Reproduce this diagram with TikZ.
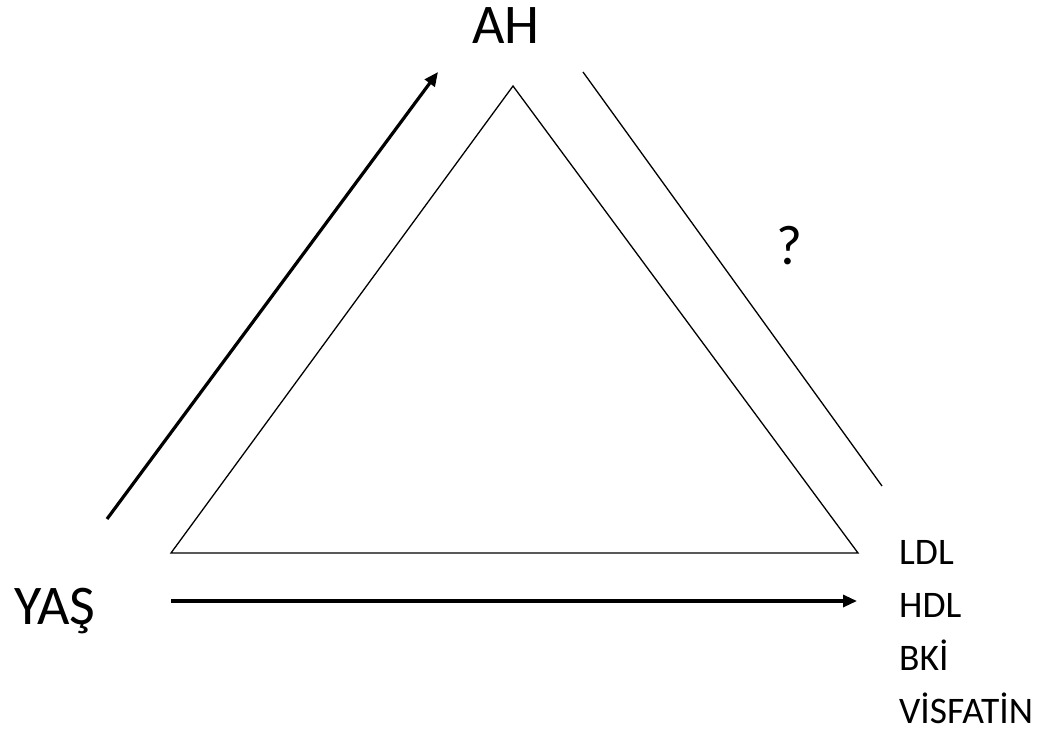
\documentclass[tikz,border=0pt]{standalone}
\usepackage{fontspec}
\setmainfont{Carlito}
\usetikzlibrary{arrows.meta}
\begin{document}
\begin{tikzpicture}[x=1pt,y=-1pt,
  thin line/.style={line width=1.3pt},
  thick arrow/.style={line width=3.2pt,-{Triangle[length=14pt,width=12pt]}},
  big/.style={font=\fontsize{56}{64}\selectfont, inner sep=0pt, anchor=base},
  lab/.style={font=\fontsize{37.5}{44}\selectfont, inner sep=0pt, anchor=base west}]
\useasboundingbox (0,0) rectangle (1043,728);
\coordinate (apex) at (513,86);
\coordinate (bl) at (171,553);
\coordinate (br) at (858,553);
\draw[thin line, line join=miter] (apex) -- (bl) -- (br) -- cycle;
\coordinate (la1) at (107,519);
\coordinate (la2) at (438,72);
\draw[thick arrow] (la1) -- (la2);
\coordinate (r1) at (583,72);
\coordinate (r2) at (882,486);
\draw[thin line] (r1) -- (r2);
\coordinate (b1) at (171,601);
\coordinate (b2) at (857,601);
\draw[thick arrow] (b1) -- (b2);
\node[big] (ah) at (506,43) {AH};
\node[big] (yas) at (55,624) {YAŞ};
\node[big] (q) at (789,264) {?};
\node[lab] (ldl) at (899,564) {LDL};
\node[lab] (hdl) at (899,617) {HDL};
\node[lab] (bki) at (899,670) {BKİ};
\node[lab] (vis) at (899,723) {VİSFATİN};
\end{tikzpicture}
\end{document}
